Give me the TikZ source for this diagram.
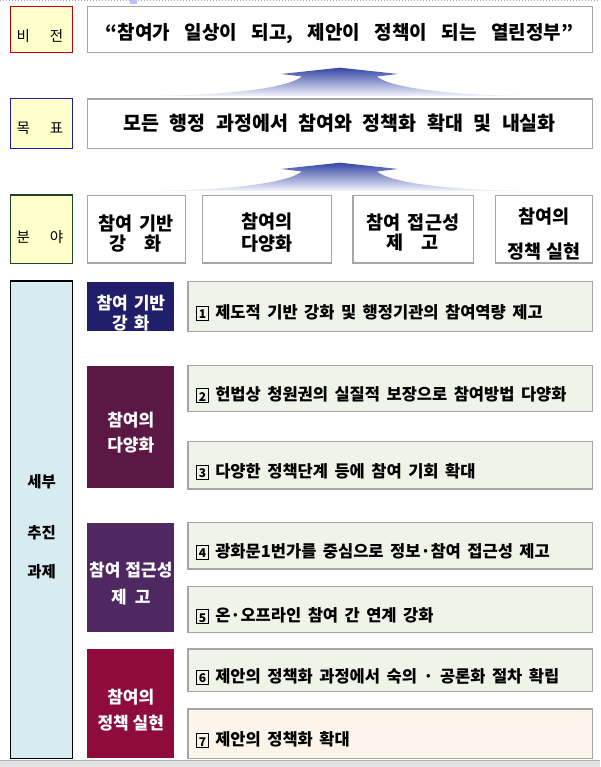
\documentclass[tikz,border=0pt]{standalone}
\usepackage{fontspec}
\setmainfont{Noto Sans CJK KR}
\definecolor{labfill}{HTML}{FFFFCC}
\definecolor{vred}{HTML}{C00000}
\definecolor{gblue}{HTML}{1F1F9A}
\definecolor{fgreen}{HTML}{1E4620}
\definecolor{detfill}{HTML}{D6ECF1}
\definecolor{boxline}{HTML}{A6A6A6}
\definecolor{navyc}{HTML}{201E6A}
\definecolor{maroonc}{HTML}{5B1844}
\definecolor{purpc}{HTML}{4F2862}
\definecolor{crimc}{HTML}{8E0B3B}
\definecolor{taskfill}{HTML}{EFF3E8}
\definecolor{creamfill}{HTML}{FDF5E9}
\definecolor{arrtop}{HTML}{3546A6}
\definecolor{arrbot}{HTML}{F3F4FB}
\newcommand\sqnum[1]{{\setlength\fboxsep{0.7pt}\setlength\fboxrule{1.1pt}\raisebox{-0.5pt}{\fbox{\makebox[9pt]{\rule[-0.5pt]{0pt}{11.5pt}\fontsize{12}{12}\selectfont\bfseries #1}}}}}
\begin{document}
\begin{tikzpicture}[x=1pt,y=-1pt,
  lab/.style={rectangle, fill=labfill, line width=1.3pt, inner sep=0pt},
  wbox/.style={rectangle, draw=boxline, fill=white, line width=1.2pt, inner sep=0pt},
  dbox/.style={rectangle, inner sep=0pt},
  tbox/.style={rectangle, draw=boxline, fill=taskfill, line width=1.2pt, inner sep=0pt},
  labtxt/.style={inner sep=0pt, font=\fontsize{14.5}{14.5}\selectfont},
  bigtxt/.style={inner sep=0pt, font=\fontsize{19}{21}\selectfont\bfseries},
  fldtxt/.style={inner sep=0pt, align=center, font=\fontsize{18.5}{20}\selectfont\bfseries},
  dtxt/.style={inner sep=0pt, align=center, text=white, font=\fontsize{17}{20}\selectfont\bfseries},
  dettxt/.style={inner sep=0pt, font=\fontsize{15.5}{18}\selectfont\bfseries},
  tasktxt/.style={inner sep=0pt, anchor=west, font=\fontsize{16.5}{18}\selectfont\bfseries},
  uparrow/.style={top color=arrtop, bottom color=arrbot, draw=none}
]
\useasboundingbox (0,0) rectangle (600,767);
% screen artefacts
\draw[gray!70, dotted, line width=1pt] (0,1) -- (600,1);
\fill[blue!25] (130,0) rectangle (137,4);
\fill[gray!22] (0,760.5) rectangle (600,767);
\draw[gray!60, line width=0.8pt] (0,760.5) -- (600,760.5);

% level labels
\node[lab, draw=vred, minimum width=62, minimum height=46.2] (vlab) at (41.7,29.6) {};
\node[lab, draw=gblue, minimum width=62, minimum height=50] (glab) at (41.7,123.3) {};
\node[lab, draw=fgreen, minimum width=62, minimum height=68.3] (flab) at (41.7,229.15) {};
\node[rectangle, fill=detfill, draw=black, line width=1.3pt, inner sep=0pt, minimum width=62, minimum height=477.3] (dlab) at (41.7,519.65) {};
\node[labtxt] (vlabt) at (40,36) {비\hspace{20pt}전};
\node[labtxt] (glabt) at (40,128) {목\hspace{20pt}표};
\node[labtxt] (flabt) at (40,236.7) {분\hspace{20pt}야};
\node[dettxt] (d1t) at (41.7,481.7) {세부};
\node[dettxt] (d2t) at (41.7,533) {추진};
\node[dettxt] (d3t) at (41.7,571.7) {과제};

% vision and goal
\node[wbox, minimum width=505.1, minimum height=46] (vbox) at (339.85,29.7) {};
\node[bigtxt] (vtxt) at (339.6,34) {\spaceskip=14.5pt “참여가 일상이 되고, 제안이 정책이 되는 열린정부”};
\node[wbox, minimum width=505.1, minimum height=49.7] (gbox) at (339.85,123.85) {};
\node[bigtxt, font=\fontsize{19.5}{21}\selectfont\bfseries] (gtxt) at (339.7,123.3) {\spaceskip=10.5pt 모든 행정 과정에서 참여와 정책화 확대 및 내실화};

% arrows
\coordinate (a1) at (340,67.7);
\coordinate (a2) at (340,162.7);
\foreach \ap in {a1,a2}{
  \path[uparrow] ([shift={(-206,28.3)}]\ap) .. controls ([shift={(-110,28.3)}]\ap) and ([shift={(-52,20)}]\ap) .. ([shift={(-38,8.8)}]\ap)
    -- ([shift={(-59,6.3)}]\ap) -- (\ap) -- ([shift={(58,6.3)}]\ap) -- ([shift={(37,8.8)}]\ap)
    .. controls ([shift={(50,20)}]\ap) and ([shift={(110,28.3)}]\ap) .. ([shift={(203,28.3)}]\ap) -- cycle;
}

% fields
\node[wbox, minimum width=97.9, minimum height=67.5] (f1) at (136.25,229.25) {};
\node[wbox, minimum width=128.6, minimum height=67.5] (f2) at (267.1,229.25) {};
\node[wbox, minimum width=120.9, minimum height=67.5] (f3) at (413.35,229.25) {};
\node[wbox, minimum width=96.8, minimum height=67.5] (f4) at (544,229.25) {};
\node[fldtxt] (f1t) at (136,233.3) {\spaceskip=7pt 참여 기반\\강\hspace{18pt}화};
\node[fldtxt, font=\fontsize{18.5}{21.6}\selectfont\bfseries] (f2t) at (267,232.5) {참여의\\다양화};
\node[fldtxt] (f3t) at (413,232.7) {\spaceskip=7pt 참여 접근성\\제\hspace{18pt}고};
\node[fldtxt, font=\fontsize{18.5}{35}\selectfont\bfseries] (f4t) at (544,234.2) {\spaceskip=7pt 참여의\\정책 실현};

% detail categories
\node[dbox, fill=navyc, minimum width=87, minimum height=49] (c1) at (130.8,306.5) {};
\node[dbox, fill=maroonc, minimum width=87, minimum height=122.6] (c2) at (130.8,427) {};
\node[dbox, fill=purpc, minimum width=87, minimum height=109.2] (c3) at (130.8,577.1) {};
\node[dbox, fill=crimc, minimum width=87, minimum height=109.8] (c4) at (130.8,703.4) {};
\node[dtxt] (c1t) at (130.8,313) {\spaceskip=6pt 참여 기반\\강\hspace{6pt}화};
\node[dtxt, font=\fontsize{17}{25}\selectfont\bfseries] (c2t) at (130.8,432.5) {참여의\\다양화};
\node[dtxt, font=\fontsize{17}{26.7}\selectfont\bfseries] (c3t) at (130.8,583.3) {\spaceskip=5pt 참여 접근성\\제\hspace{8pt}고};
\node[dtxt, font=\fontsize{17}{26.6}\selectfont\bfseries] (c4t) at (130.8,710) {\spaceskip=6pt 참여의\\정책 실현};

% tasks
\node[tbox, minimum width=404.4, minimum height=50] (t1) at (390.2,306.7) {};
\node[tbox, minimum width=404.4, minimum height=46] (t2) at (390.2,388.7) {};
\node[tbox, minimum width=404.4, minimum height=47.3] (t3) at (390.2,465.35) {};
\node[tbox, minimum width=404.4, minimum height=46.3] (t4) at (390.2,545.85) {};
\node[tbox, minimum width=404.4, minimum height=45.6] (t5) at (390.2,609.5) {};
\node[tbox, minimum width=404.4, minimum height=42.7] (t6) at (390.2,670.35) {};
\node[tbox, fill=creamfill, minimum width=404.4, minimum height=49.3] (t7) at (390.2,733.65) {};
\node[tasktxt] (t1t) at (196,312.7) {\spaceskip=6.5pt \sqnum{1} 제도적 기반 강화 및 행정기관의 참여역량 제고};
\node[tasktxt] (t2t) at (196,395) {\spaceskip=6.5pt \sqnum{2} 헌법상 청원권의 실질적 보장으로 참여방법 다양화};
\node[tasktxt] (t3t) at (196,471.7) {\spaceskip=6.5pt \sqnum{3} 다양한 정책단계 등에 참여 기회 확대};
\node[tasktxt] (t4t) at (196,551.7) {\spaceskip=6.5pt \sqnum{4} 광화문1번가를 중심으로 정보·참여 접근성 제고};
\node[tasktxt] (t5t) at (196,616) {\spaceskip=6.5pt \sqnum{5} 온·오프라인 참여 간 연계 강화};
\node[tasktxt] (t6t) at (196,676.7) {\spaceskip=6.5pt \sqnum{6} 제안의 정책화 과정에서 숙의 · 공론화 절차 확립};
\node[tasktxt] (t7t) at (196,740) {\spaceskip=6.5pt \sqnum{7} 제안의 정책화 확대};
\end{tikzpicture}
\end{document}
